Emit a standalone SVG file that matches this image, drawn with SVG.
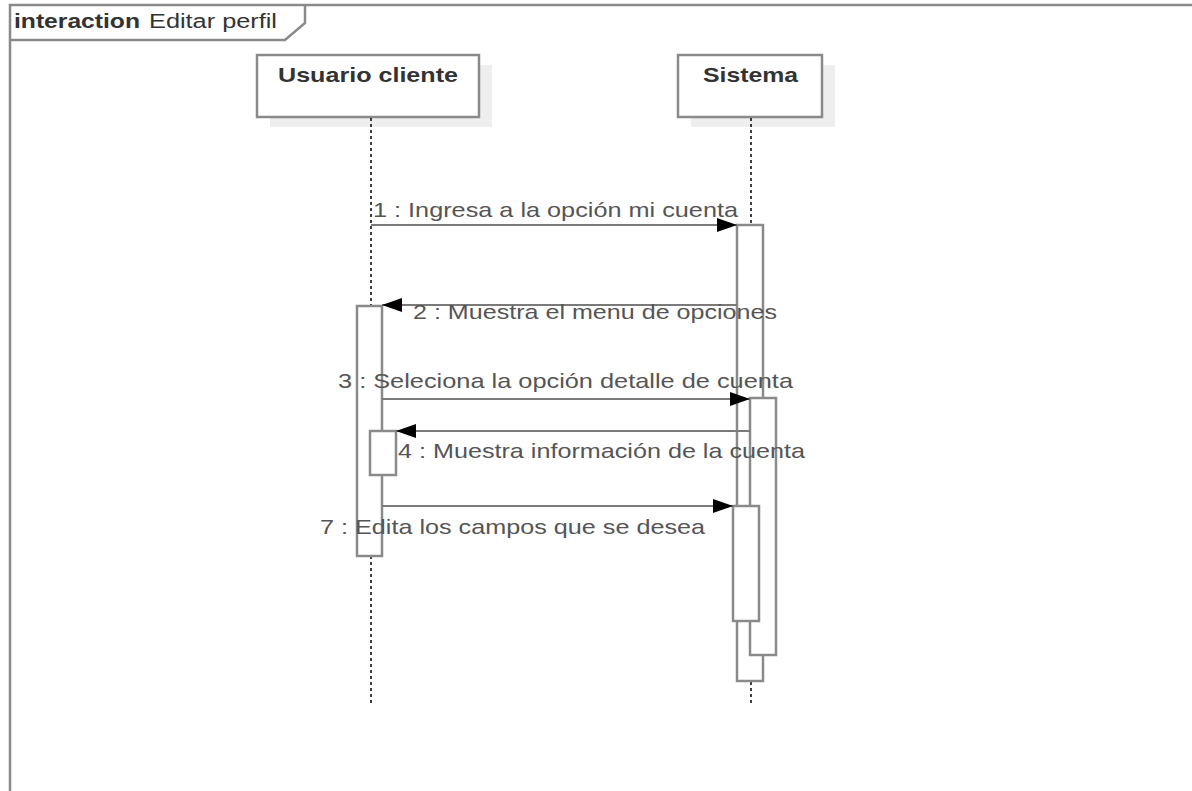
<svg xmlns="http://www.w3.org/2000/svg" width="1192" height="791" viewBox="0 0 1192 791">
<style>
.frame{fill:none;stroke:#8a8a8a;stroke-width:2.5}
.box{fill:#fff;stroke:#8a8a8a;stroke-width:2.5}
.shadow{fill:#eeeeee;stroke:none}
.act{fill:#fff;stroke:#8a8a8a;stroke-width:2.5}
.life{stroke:#000;stroke-width:1.5;stroke-dasharray:3,3;fill:none}
.msg{stroke:#7a7a7a;stroke-width:2.2;fill:none}
.name{font-family:"Liberation Sans",Arial,sans-serif;font-size:21px;font-weight:bold;fill:#333}
.lbl{font-family:"Liberation Sans",Arial,sans-serif;font-size:21px;fill:#555}
.title{font-family:"Liberation Sans",Arial,sans-serif;font-size:20px;fill:#333}
</style>
<defs>
<marker id="arr" markerUnits="userSpaceOnUse" markerWidth="20" markerHeight="14" refX="20" refY="7" orient="auto">
<path d="M0,0 L20,7 L0,14 z" fill="#000"/>
</marker>
</defs>
<rect width="1192" height="791" fill="#fff"/>
<g id="frame">
<path class="frame" d="M10,800 L10,5 L1200,5"/>
<path class="frame" d="M10,40 L285,40 L305,23 L305,5"/>
<text x="14" y="28" class="title" font-weight="bold" textLength="126" lengthAdjust="spacingAndGlyphs">interaction</text>
<text x="149" y="28" class="title" fill="#444" textLength="128" lengthAdjust="spacingAndGlyphs">Editar perfil</text>
</g>
<g id="usuario">
<rect class="shadow" x="270" y="65" width="222" height="62"/>
<rect class="box" x="257" y="55" width="222" height="62"/>
<text x="368" y="82" class="name" text-anchor="middle" textLength="180" lengthAdjust="spacingAndGlyphs">Usuario cliente</text>
<line class="life" x1="371" y1="118" x2="371" y2="704"/>
</g>
<g id="sistema">
<rect class="shadow" x="691" y="65" width="144" height="62"/>
<rect class="box" x="678" y="55" width="144" height="62"/>
<text x="750.5" y="82" class="name" text-anchor="middle" textLength="95" lengthAdjust="spacingAndGlyphs">Sistema</text>
<line class="life" x1="751" y1="118" x2="751" y2="704"/>
</g>
<g id="activations">
<rect class="act" x="357" y="306" width="25" height="250"/>
<rect class="act" x="370" y="431" width="26" height="44"/>
<rect class="act" x="737" y="225" width="26" height="456"/>
<rect class="act" x="750" y="398" width="26" height="257"/>
<rect class="act" x="733" y="506" width="26" height="115"/>
</g>
<g id="connectors">
<line class="msg" x1="371" y1="225" x2="737" y2="225" marker-end="url(#arr)"/>
<line class="msg" x1="737" y1="305" x2="382" y2="305" marker-end="url(#arr)"/>
<line class="msg" x1="382" y1="399" x2="750" y2="399" marker-end="url(#arr)"/>
<line class="msg" x1="750" y1="431" x2="396" y2="431" marker-end="url(#arr)"/>
<line class="msg" x1="382" y1="506" x2="733" y2="506" marker-end="url(#arr)"/>
</g>
<g id="labels">
<text x="373" y="217" class="lbl" textLength="365" lengthAdjust="spacingAndGlyphs">1 : Ingresa a la opción mi cuenta</text>
<text x="413" y="319" class="lbl" textLength="364" lengthAdjust="spacingAndGlyphs">2 : Muestra el menu de opciones</text>
<text x="338" y="388" class="lbl" textLength="455" lengthAdjust="spacingAndGlyphs">3 : Seleciona la opción detalle de cuenta</text>
<text x="398" y="458" class="lbl" textLength="407" lengthAdjust="spacingAndGlyphs">4 : Muestra información de la cuenta</text>
<text x="320" y="534" class="lbl" textLength="385" lengthAdjust="spacingAndGlyphs">7 : Edita los campos que se desea</text>
</g>
</svg>
